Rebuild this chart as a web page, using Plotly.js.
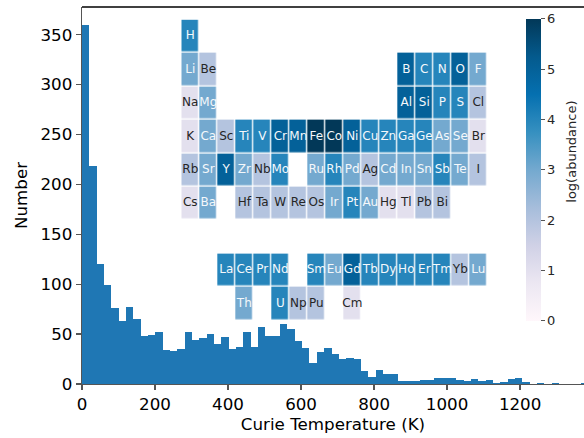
<!DOCTYPE html>
<html><head><meta charset="utf-8">
<script src="https://cdn.plot.ly/plotly-3.0.1.min.js"></script>
<style>html,body{margin:0;padding:0;background:#fff}</style>
</head><body>
<div id="chart" style="width:584px;height:438px"></div>
<script>
// Histogram of Curie temperatures (bin counts)
const binStart = 0;
const binWidth = 20.1;
const counts = [360,218,120,99,76,63,77,65,48,49,52,34,33,35,52,44,46,50,40,47,
  35,37,52,37,57,48,48,60,55,43,36,21,32,36,30,25,26,25,13,7,
  14,10,10,3,3,3,4,4,6,6,6,4,3,5,3,4,1,2,5,6,
  2,0,1,0,1,0,0,0,1];
const xTicks = [0,200,400,600,800,1000,1200];
const yTicks = [0,50,100,150,200,250,300,350];

// Periodic table inset: symbol, group column, period row, log(abundance)
const elements = ['H',
  'Li','Be','B','C','N','O','F',
  'Na','Mg','Al','Si','P','S','Cl',
  'K','Ca','Sc','Ti','V','Cr','Mn','Fe','Co','Ni','Cu','Zn','Ga','Ge','As','Se','Br',
  'Rb','Sr','Y','Zr','Nb','Mo','Ru','Rh','Pd','Ag','Cd','In','Sn','Sb','Te','I',
  'Cs','Ba','Hf','Ta','W','Re','Os','Ir','Pt','Au','Hg','Tl','Pb','Bi',
  'La','Ce','Pr','Nd','Sm','Eu','Gd','Tb','Dy','Ho','Er','Tm','Yb','Lu',
  'Th','U','Np','Pu','Cm'];
const groupCol = [1,
  1,2,13,14,15,16,17,
  1,2,13,14,15,16,17,
  1,2,3,4,5,6,7,8,9,10,11,12,13,14,15,16,17,
  1,2,3,4,5,6,8,9,10,11,12,13,14,15,16,17,
  1,2,4,5,6,7,8,9,10,11,12,13,14,15,
  3,4,5,6,8,9,10,11,12,13,14,15,16,17,
  4,6,7,8,10];
const periodRow = [1,
  2,2,2,2,2,2,2,
  3,3,3,3,3,3,3,
  4,4,4,4,4,4,4,4,4,4,4,4,4,4,4,4,4,
  5,5,5,5,5,5,5,5,5,5,5,5,5,5,5,5,
  6,6,6,6,6,6,6,6,6,6,6,6,6,6,
  8,8,8,8,8,8,8,8,8,8,8,8,8,8,
  9,9,9,9,9];
const logAbundance = [4,
  3,2,5,4,4,5,3,
  1,3,5,5,4,4,2,
  1,3,2,4,4,5,5,6,6,5,4,4,4,4,3,3,1,
  2,3,5,3,2,4,3,4,3,2,3,3,3,4,3,2,
  1,3,2,2,2,2,2,3,4,3,1,1,2,2,
  4,4,4,4,4,3,5,4,4,4,4,4,2,3,
  3,4,2,2,1];
const cbTicks = [0,1,2,3,4,5,6];

const nCols = 17, nRows = 9;
const z = Array.from({length: nRows}, () => Array(nCols).fill(null));
elements.forEach((el, i) => { z[periodRow[i]-1][groupCol[i]-1] = logAbundance[i]; });
const colIdx = Array.from({length: nCols}, (_, i) => i + 1);
const rowIdx = Array.from({length: nRows}, (_, i) => i + 1);

const PuBu = [[0,'#fff7fb'],[0.125,'#ece7f2'],[0.25,'#d0d1e6'],[0.375,'#a6bddb'],
  [0.5,'#74a9cf'],[0.625,'#3690c0'],[0.75,'#0570b0'],[0.875,'#045a8d'],[1,'#023858']];

const binCenters = counts.map((c, i) => binStart + binWidth * (i + 0.5));
const FONT = 'DejaVu Sans, sans-serif';

const traces = [
  {type:'bar', x: binCenters, y: counts, width: binWidth,
   marker:{color:'#1f77b4', line:{width:0}}, xaxis:'x', yaxis:'y', hoverinfo:'skip'},
  {type:'heatmap', x: colIdx, y: rowIdx, z: z, xaxis:'x2', yaxis:'y2',
   colorscale: PuBu, zmin:0, zmax:6, xgap:1.3, ygap:1.3, hoverinfo:'skip',
   colorbar:{x:0.8845, xanchor:'left', xpad:0, ypad:0, y:0.5684, yanchor:'middle',
     len:0.801, lenmode:'fraction', thickness:15, outlinewidth:0,
     tickvals: cbTicks, ticks:'outside', ticklen:4, tickwidth:1, tickcolor:'#555',
     tickfont:{family:FONT, size:13, color:'#262626'}}},
  {type:'scatter', mode:'text', x: groupCol, y: periodRow, text: elements,
   xaxis:'x2', yaxis:'y2', hoverinfo:'skip', showlegend:false,
   textposition:'middle center',
   textfont:{family:FONT, size:12, color: logAbundance.map(v => v >= 3 ? '#f4f8fb' : '#262626')}}
];

const layout = {
  width:584, height:438,
  margin:{l:82, r:0, t:7, b:54},
  paper_bgcolor:'#fff', plot_bgcolor:'rgba(0,0,0,0)',
  showlegend:false, bargap:0,
  font:{family:FONT, color:'#000'},
  xaxis:{domain:[0,1], range:[0,1375], tickvals:xTicks, ticks:'outside', ticklen:5, tickwidth:1.3,
    tickcolor:'#555', showline:true, linecolor:'#555', linewidth:1.3, zeroline:false, showgrid:false,
    tickfont:{family:FONT, size:16.7, color:'#000'},
    title:{text:'Curie Temperature (K)', font:{family:FONT, size:16.7, color:'#000'}, standoff:4}},
  yaxis:{domain:[0,1], range:[0,377.8], tickvals:yTicks, ticks:'outside', ticklen:5, tickwidth:1.3,
    tickcolor:'#555', showline:true, linecolor:'#555', linewidth:1.3, zeroline:false, showgrid:false,
    tickfont:{family:FONT, size:16.7, color:'#000'},
    title:{text:'Number', font:{family:FONT, size:16.7, color:'#000'}, standoff:8}},
  xaxis2:{domain:[0.1978,0.8074], anchor:'y2', range:[0.5,17.5], visible:false, fixedrange:true},
  yaxis2:{domain:[0.169,0.9666], anchor:'x2', range:[9.5,0.5], visible:false, fixedrange:true},
  shapes:[{type:'line', xref:'paper', yref:'paper', x0:0, x1:1, y0:1, y1:1,
    line:{color:'#000', width:1.3}}],
  annotations:[{text:'log(abundance)', xref:'paper', yref:'paper', x:0.976, y:0.616,
    textangle:-90, showarrow:false, xanchor:'center', yanchor:'middle',
    font:{family:FONT, size:13, color:'#262626'}}]
};

Plotly.newPlot('chart', traces, layout, {staticPlot:true, displayModeBar:false});
</script>
</body></html>
